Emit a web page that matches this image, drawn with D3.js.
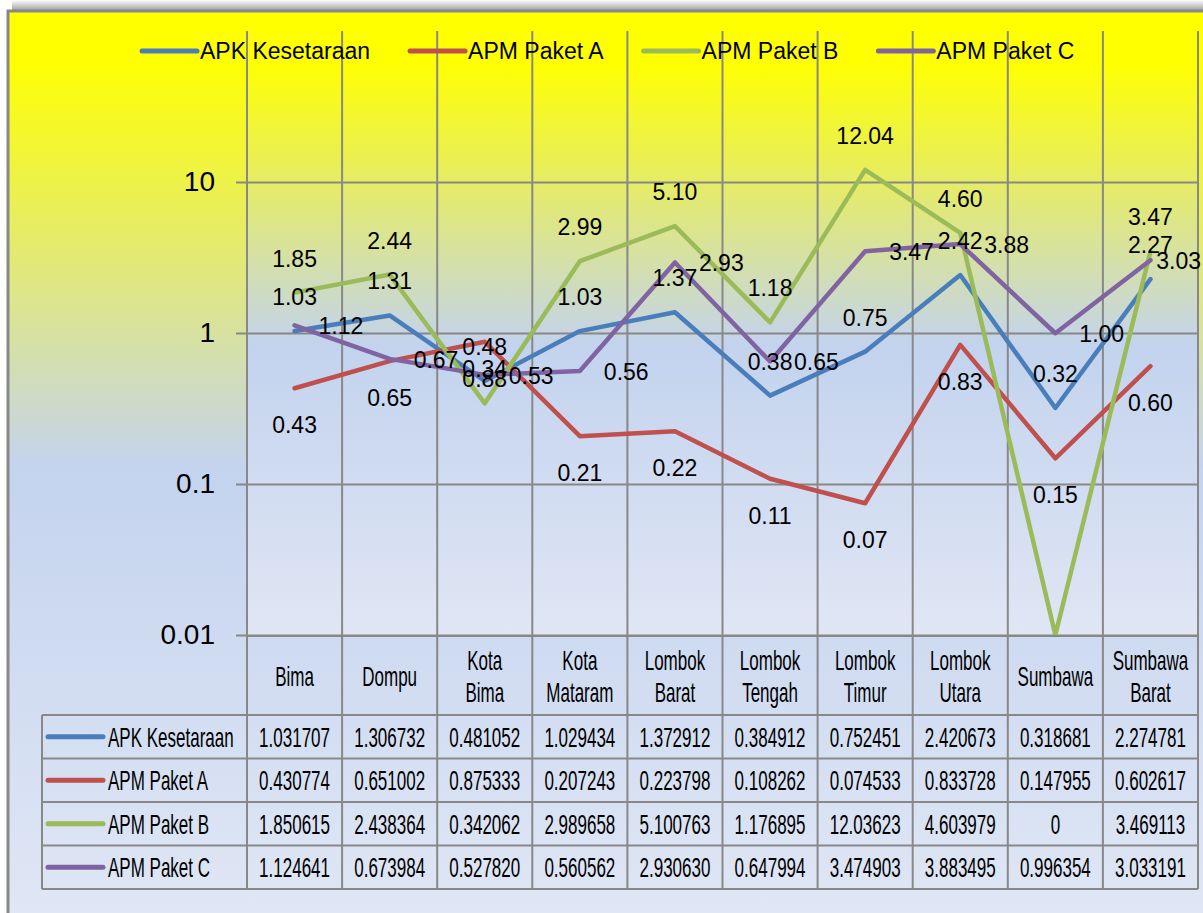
<!DOCTYPE html>
<html>
<head>
<meta charset="utf-8">
<script src="https://cdn.jsdelivr.net/npm/d3@7"></script>
<style>
  body { margin: 0; background: #fff; }
  text { font-family: "Liberation Sans", Arial, sans-serif; fill: #000; }
</style>
</head>
<body>
<div id="chart"></div>
<script>
var categories = ["Bima", "Dompu", "Kota Bima", "Kota Mataram", "Lombok Barat",
    "Lombok Tengah", "Lombok Timur", "Lombok Utara", "Sumbawa", "Sumbawa Barat"];

var seriesNames = ["APK Kesetaraan", "APM Paket A", "APM Paket B", "APM Paket C"];

var apkKesetaraan = [1.031707, 1.306732, 0.481052, 1.029434, 1.372912, 0.384912, 0.752451, 2.420673, 0.318681, 2.274781];
var apmPaketA = [0.430774, 0.651002, 0.875333, 0.207243, 0.223798, 0.108262, 0.074533, 0.833728, 0.147955, 0.602617];
var apmPaketB = [1.850615, 2.438364, 0.342062, 2.989658, 5.100763, 1.176895, 12.03623, 4.603979, 0, 3.469113];
var apmPaketC = [1.124641, 0.673984, 0.527820, 0.560562, 2.930630, 0.647994, 3.474903, 3.883495, 0.996354, 3.033191];

var yTicks = [0.01, 0.1, 1, 10];

// styling kept apart from the data
var colors = ["#4a7ebb", "#c0504d", "#9bbb59", "#8064a2"];
var labelPos = ["above", "below", "above", "right"];

var series = [apkKesetaraan, apmPaketA, apmPaketB, apmPaketC].map(function (vals, i) {
    return { name: seriesNames[i], values: vals, color: colors[i], pos: labelPos[i] };
});

var W = 1203, H = 913;
var plot = { left: 247, right: 1198, top: 31, bottom: 635 };
var tableTop = 636, headBottom = 715, rowH = 43.5, tableLeft = 42;

var svg = d3.select("#chart").append("svg")
    .attr("width", W)
    .attr("height", H);

var defs = svg.append("defs");

var g1 = defs.append("linearGradient").attr("id", "bgGrad")
    .attr("x1", 0).attr("y1", 0).attr("x2", 0).attr("y2", 1);
g1.append("stop").attr("offset", "0%").attr("stop-color", "#ffff00");
g1.append("stop").attr("offset", "5%").attr("stop-color", "#ffff00");
g1.append("stop").attr("offset", "50%").attr("stop-color", "#c4d3ee");
g1.append("stop").attr("offset", "100%").attr("stop-color", "#e0e7f5");

var g2 = defs.append("linearGradient").attr("id", "plotGrad")
    .attr("x1", 0).attr("y1", 0).attr("x2", 0).attr("y2", 1);
g2.append("stop").attr("offset", "0%").attr("stop-color", "#ffff00");
g2.append("stop").attr("offset", "5%").attr("stop-color", "#ffff00");
g2.append("stop").attr("offset", "52%").attr("stop-color", "#c3d3ee");
g2.append("stop").attr("offset", "100%").attr("stop-color", "#e0e6f4");

var g3 = defs.append("linearGradient").attr("id", "shadowGrad")
    .attr("x1", 0).attr("y1", 0).attr("x2", 0).attr("y2", 1);
g3.append("stop").attr("offset", "0%").attr("stop-color", "#ffffff");
g3.append("stop").attr("offset", "100%").attr("stop-color", "#9a9a9a");

// shadow + frame
svg.append("rect").attr("x", 12).attr("y", 0).attr("width", W).attr("height", 11)
    .attr("fill", "url(#shadowGrad)");
svg.append("rect")
    .attr("x", 8).attr("y", 11)
    .attr("width", W + 20).attr("height", H)
    .attr("fill", "url(#bgGrad)")
    .attr("stroke", "#888")
    .attr("stroke-width", 3);

svg.append("rect")
    .attr("x", plot.left).attr("y", plot.top)
    .attr("width", plot.right - plot.left).attr("height", plot.bottom - plot.top)
    .attr("fill", "url(#plotGrad)");

var x = d3.scaleBand().domain(categories).range([plot.left, plot.right]);
var y = d3.scaleLog().domain([0.01, 100]).range([plot.bottom, plot.top]);
var cx = function (i) { return x(categories[i]) + x.bandwidth() / 2; };

// vertical lines through plot and table
var edges = categories.map(function (c) { return x(c); }).concat([plot.right]);
svg.append("g").selectAll("line")
    .data(edges)
    .enter()
    .append("line")
    .attr("x1", function (d) { return d; })
    .attr("x2", function (d) { return d; })
    .attr("y1", plot.top)
    .attr("y2", headBottom + rowH * 4)
    .attr("stroke", "#888")
    .attr("stroke-width", 2);

// y axis with gridlines
var yAxis = svg.append("g")
    .attr("transform", "translate(" + plot.left + ",0)")
    .call(d3.axisLeft(y)
        .tickValues(yTicks)
        .tickFormat(function (d) { return String(d); })
        .tickSizeInner(-(plot.right - plot.left))
        .tickSizeOuter(0)
        .tickPadding(32));
yAxis.select(".domain").remove();
yAxis.selectAll(".tick line")
    .attr("x1", -11)
    .attr("stroke", "#888")
    .attr("stroke-width", 2);
yAxis.selectAll(".tick text")
    .style("font-family", "'Liberation Sans', Arial, sans-serif")
    .style("font-size", "28px")
    .attr("fill", "#000");

// lines
var line = d3.line()
    .x(function (d, i) { return cx(i); })
    .y(function (d) { return y(Math.max(d, 0.01)); });

svg.append("g").selectAll("path")
    .data(series)
    .enter()
    .append("path")
    .attr("d", function (d) { return line(d.values); })
    .attr("fill", "none")
    .attr("stroke", function (d) { return d.color; })
    .attr("stroke-width", 4.5)
    .attr("stroke-linejoin", "round")
    .attr("stroke-linecap", "round");

// data labels
var labels = svg.append("g").style("font-size", "23px");
series.forEach(function (s) {
    s.values.forEach(function (v, i) {
        if (v <= 0) return;
        var px = cx(i), py = y(v);
        var t = labels.append("text").text(v.toFixed(2));
        if (s.pos === "above") {
            t.attr("x", px).attr("y", py - 26).attr("text-anchor", "middle");
        } else if (s.pos === "below") {
            t.attr("x", px).attr("y", py + 45).attr("text-anchor", "middle");
        } else {
            var tw = t.node().getComputedTextLength();
            t.attr("x", Math.min(px + 24, W - 2 - tw)).attr("y", py + 9).attr("text-anchor", "start");
        }
    });
});

// top legend
var legend = svg.append("g").attr("transform", "translate(0,51)");
var lx = 142;
series.forEach(function (s) {
    legend.append("line")
        .attr("x1", lx).attr("x2", lx + 55)
        .attr("y1", 0).attr("y2", 0)
        .attr("stroke", s.color)
        .attr("stroke-width", 5)
        .attr("stroke-linecap", "round");
    var t = legend.append("text")
        .attr("x", lx + 58)
        .attr("dy", "0.35em")
        .style("font-size", "23px")
        .text(s.name);
    lx += 58 + t.node().getComputedTextLength() + 40;
});

// data table
var table = svg.append("g");
var rowY = function (r) { return headBottom + rowH * r; };

table.append("line")
    .attr("x1", plot.left).attr("x2", plot.right)
    .attr("y1", tableTop).attr("y2", tableTop)
    .attr("stroke", "#888").attr("stroke-width", 2);
d3.range(5).forEach(function (r) {
    table.append("line")
        .attr("x1", tableLeft).attr("x2", plot.right)
        .attr("y1", rowY(r)).attr("y2", rowY(r))
        .attr("stroke", "#888").attr("stroke-width", 2);
});
table.append("line")
    .attr("x1", tableLeft).attr("x2", tableLeft)
    .attr("y1", rowY(0)).attr("y2", rowY(4))
    .attr("stroke", "#888").attr("stroke-width", 2);

function condensed(sel, tx, ty, str, anchor) {
    sel.append("text")
        .attr("transform", "translate(" + tx + "," + ty + ") scale(0.63,1)")
        .attr("text-anchor", anchor || "middle")
        .style("font-size", "27px")
        .text(str);
}

categories.forEach(function (c, i) {
    var words = c.split(" ");
    if (words.length === 1) {
        condensed(table, cx(i), 686, c);
    } else {
        condensed(table, cx(i), 670, words[0]);
        condensed(table, cx(i), 702, words.slice(1).join(" "));
    }
});

function fmt(v) {
    if (v === 0) return "0";
    return v >= 10 ? v.toFixed(5) : v.toFixed(6);
}

series.forEach(function (s, r) {
    var mid = rowY(r) + rowH / 2;
    table.append("line")
        .attr("x1", 48).attr("x2", 103)
        .attr("y1", mid).attr("y2", mid)
        .attr("stroke", s.color)
        .attr("stroke-width", 5)
        .attr("stroke-linecap", "round");
    condensed(table, 108, mid + 10, s.name, "start");
    s.values.forEach(function (v, i) {
        condensed(table, cx(i), mid + 10, fmt(v));
    });
});
</script>
</body>
</html>
